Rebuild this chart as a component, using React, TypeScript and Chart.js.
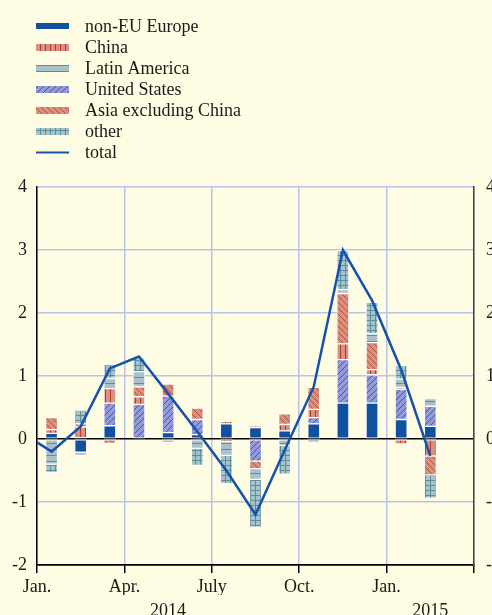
import React, { useEffect, useRef } from "react";
import { Chart, registerables } from "chart.js";

Chart.register(...registerables);

// ---------- data ----------
const months = [
  "2014-01", "2014-02", "2014-03", "2014-04", "2014-05", "2014-06", "2014-07",
  "2014-08", "2014-09", "2014-10", "2014-11", "2014-12", "2015-01", "2015-02",
];
const totalMonths = ["2013-12", ...months];

const nonEUEurope = [0.09, -0.21, 0.21, 0, 0.1, 0.07, 0.24, 0.18, 0.13, 0.24, 0.57, 0.57, 0.31, 0.2];
const unitedStates = [0, 0.02, 0.36, 0.55, 0.58, 0.24, 0, -0.35, 0, 0.1, 0.69, 0.45, 0.48, 0.32];
const china = [0.06, 0.17, 0.23, 0.12, 0, 0, 0.04, 0.03, 0.1, 0.13, 0.25, 0.08, -0.08, -0.27];
const asiaExChina = [0.19, 0.05, -0.07, 0.16, 0.19, 0.18, -0.04, -0.12, 0.17, 0.35, 0.8, 0.43, 0.03, -0.3];
const latinAmerica = [-0.4, -0.05, 0.16, 0.24, -0.06, -0.15, -0.22, -0.17, -0.1, 0, 0.06, 0.14, 0.13, 0.12];
const other = [-0.13, 0.22, 0.22, 0.22, 0, -0.27, -0.45, -0.76, -0.46, -0.05, 0.62, 0.5, 0.22, -0.37];
const total = [0.1, -0.2, 0.2, 1.12, 1.31, 0.72, 0.12, -0.5, -1.2, -0.18, 0.83, 3.0, 2.2, 1.1, -0.27];

const quarterTicks = [0, 3, 6, 9, 12, 15];
const quarterLabels = ["Jan.", "Apr.", "July", "Oct.", "Jan.", ""];
const yearTicks = [4.5, 13.5];
const yearLabels = ["2014", "2015"];

const legendOrder = [
  "non-EU Europe", "China", "Latin America", "United States",
  "Asia excluding China", "other", "total",
];

// ---------- helpers ----------
const BG = "#fefce3";
const GRID = "#b9c2ea";
const FONT_FAMILY = '"Liberation Serif", "Times New Roman", serif';
const FONT_SIZE = 18;
const TEXT = "#1a1a1a";

function monthOffset(label: string): number {
  const [y, m] = label.split("-").map(Number);
  return (y - 2014) * 12 + (m - 1);
}

function toPoints(values: number[], labels: string[], dropZero = true) {
  return values.map((v, i) => ({
    x: monthOffset(labels[i]) + 0.5,
    y: dropZero && v === 0 ? null : v,
  }));
}

function makePattern(
  ctx: CanvasRenderingContext2D,
  bg: string,
  fg: string,
  kind: string,
  size: number
): CanvasPattern | string {
  const c = document.createElement("canvas");
  c.width = size;
  c.height = size;
  const g = c.getContext("2d")!;
  g.fillStyle = bg;
  g.fillRect(0, 0, size, size);
  g.strokeStyle = fg;
  g.lineWidth = 1;
  g.beginPath();
  const h = Math.floor(size / 2) + 0.5;
  if (kind === "vertical" || kind === "grid") {
    g.moveTo(h, 0);
    g.lineTo(h, size);
  }
  if (kind === "horizontal" || kind === "grid") {
    g.moveTo(0, h);
    g.lineTo(size, h);
  }
  if (kind === "diagUp") {
    g.moveTo(-1, size + 1);
    g.lineTo(size + 1, -1);
    g.moveTo(-1, 1);
    g.lineTo(1, -1);
    g.moveTo(size - 1, size + 1);
    g.lineTo(size + 1, size - 1);
  }
  if (kind === "diagDown") {
    g.moveTo(-1, -1);
    g.lineTo(size + 1, size + 1);
    g.moveTo(size - 1, -1);
    g.lineTo(size + 1, 1);
    g.moveTo(-1, size - 1);
    g.lineTo(1, size + 1);
  }
  g.stroke();
  return ctx.createPattern(c, "repeat") || bg;
}

const legendPlugin = {
  id: "customLegend",
  afterDraw(chart: any) {
    const ctx: CanvasRenderingContext2D = chart.ctx;
    ctx.save();
    ctx.font = `${FONT_SIZE}px ${FONT_FAMILY}`;
    ctx.textBaseline = "middle";
    ctx.textAlign = "left";
    legendOrder.forEach((name, i) => {
      const ds = chart.data.datasets.find((d: any) => d.label === name);
      if (!ds) return;
      const y = Math.round(17.5 + i * 21.15);
      if (ds.type === "line") {
        ctx.strokeStyle = ds.borderColor;
        ctx.lineWidth = 2;
        ctx.beginPath();
        ctx.moveTo(28, y + 0.5);
        ctx.lineTo(61, y + 0.5);
        ctx.stroke();
      } else {
        ctx.fillStyle = ds.backgroundColor;
        if (name === "non-EU Europe") ctx.fillRect(28, y - 3, 33, 6);
        else ctx.fillRect(28, y - 3, 33, 7);
      }
      ctx.fillStyle = TEXT;
      ctx.fillText(name, 77, y + 1);
    });
    ctx.restore();
  },
};

export default function App() {
  const canvasRef = useRef<HTMLCanvasElement | null>(null);

  useEffect(() => {
    document.body.style.background = BG;
    document.body.style.margin = "0";
    document.body.style.overflow = "hidden";
    const canvas = canvasRef.current!;
    const ctx = canvas.getContext("2d")!;

    const pUS = makePattern(ctx, "#909bd8", "#3d58b0", "diagUp", 6);
    const pChina = makePattern(ctx, "#d9907e", "#b3392c", "vertical", 5);
    const pAsia = makePattern(ctx, "#d8917d", "#b5503e", "diagDown", 6);
    const pLatAm = makePattern(ctx, "#aac1c9", "#5f8d9b", "horizontal", 6);
    const pOther = makePattern(ctx, "#a7c3c9", "#5a8e9a", "grid", 5);

    const barCommon = {
      type: "bar" as const,
      borderColor: "#ffffff",
      borderWidth: 1,
      borderSkipped: false,
      barThickness: 12,
      xAxisID: "x",
      yAxisID: "y",
    };

    const font = { family: FONT_FAMILY, size: FONT_SIZE };

    const chart = new Chart(ctx, {
      type: "bar",
      data: {
        datasets: [
          {
            type: "line",
            label: "total",
            data: toPoints(total, totalMonths, false),
            borderColor: "#1652a8",
            borderWidth: 2.5,
            pointRadius: 0,
            tension: 0,
            order: -1,
            xAxisID: "x",
            yAxisID: "y2",
          } as any,
          { ...barCommon, label: "non-EU Europe", data: toPoints(nonEUEurope, months), backgroundColor: "#1250a0" },
          { ...barCommon, label: "United States", data: toPoints(unitedStates, months), backgroundColor: pUS },
          { ...barCommon, label: "China", data: toPoints(china, months), backgroundColor: pChina },
          { ...barCommon, label: "Asia excluding China", data: toPoints(asiaExChina, months), backgroundColor: pAsia },
          { ...barCommon, label: "Latin America", data: toPoints(latinAmerica, months), backgroundColor: pLatAm },
          { ...barCommon, label: "other", data: toPoints(other, months), backgroundColor: pOther },
        ] as any,
      },
      options: {
        responsive: false,
        animation: false,
        events: [],
        layout: { padding: { top: 179, bottom: 3, left: 0, right: 0 } },
        plugins: {
          legend: { display: false },
          tooltip: { enabled: false },
        },
        scales: {
          x: {
            type: "linear",
            min: 0,
            max: 15,
            offset: false,
            stacked: true,
            position: "bottom",
            weight: 0,
            afterBuildTicks: (s: any) => {
              s.ticks = quarterTicks.map((v) => ({ value: v }));
            },
            afterFit: (s: any) => {
              s.height = 30;
            },
            ticks: {
              autoSkip: false,
              maxRotation: 0,
              padding: 3,
              font,
              color: TEXT,
              callback: (_v: any, i: number) => quarterLabels[i],
            },
            grid: {
              color: GRID,
              lineWidth: 1.5,
              tickColor: "#000",
              tickLength: 8,
              drawTicks: true,
              offset: false,
            },
            border: { color: "#000", width: 1.5 },
          },
          x2: {
            type: "linear",
            min: 0,
            max: 15,
            offset: false,
            position: "bottom",
            weight: 1,
            afterBuildTicks: (s: any) => {
              s.ticks = yearTicks.map((v) => ({ value: v }));
            },
            afterFit: (s: any) => {
              s.height = 40;
            },
            ticks: {
              autoSkip: false,
              maxRotation: 0,
              padding: 5,
              font,
              color: TEXT,
              callback: (_v: any, i: number) => yearLabels[i],
            },
            grid: { display: false, drawTicks: false },
            border: { display: false },
          },
          y: {
            type: "linear",
            stacked: true,
            min: -2,
            max: 4,
            position: "left",
            afterFit: (s: any) => {
              s.width = 29;
            },
            ticks: { stepSize: 1, padding: 10, font, color: TEXT },
            grid: {
              color: (c: any) => (c.tick && (c.tick.value === 0 || c.tick.value === -2) ? "#000" : GRID),
              lineWidth: 1.5,
              drawTicks: false,
            },
            border: { color: "#000", width: 1.5 },
          },
          y2: {
            type: "linear",
            min: -2,
            max: 4,
            position: "right",
            afterFit: (s: any) => {
              s.width = 40;
            },
            ticks: { stepSize: 1, padding: 12, font, color: TEXT, autoSkip: false },
            grid: { display: true, drawOnChartArea: false, drawTicks: false, color: "rgba(0,0,0,0)" },
            border: { color: "#444", width: 1.5 },
          },
        },
      } as any,
      plugins: [legendPlugin],
    });

    return () => {
      chart.destroy();
    };
  }, []);

  return (
    <div style={{ position: "relative", width: 492, height: 615, overflow: "hidden", background: BG }}>
      <canvas
        ref={canvasRef}
        width={506}
        height={630}
        style={{ display: "block", position: "absolute", left: 8, top: 8 }}
      />
    </div>
  );
}
